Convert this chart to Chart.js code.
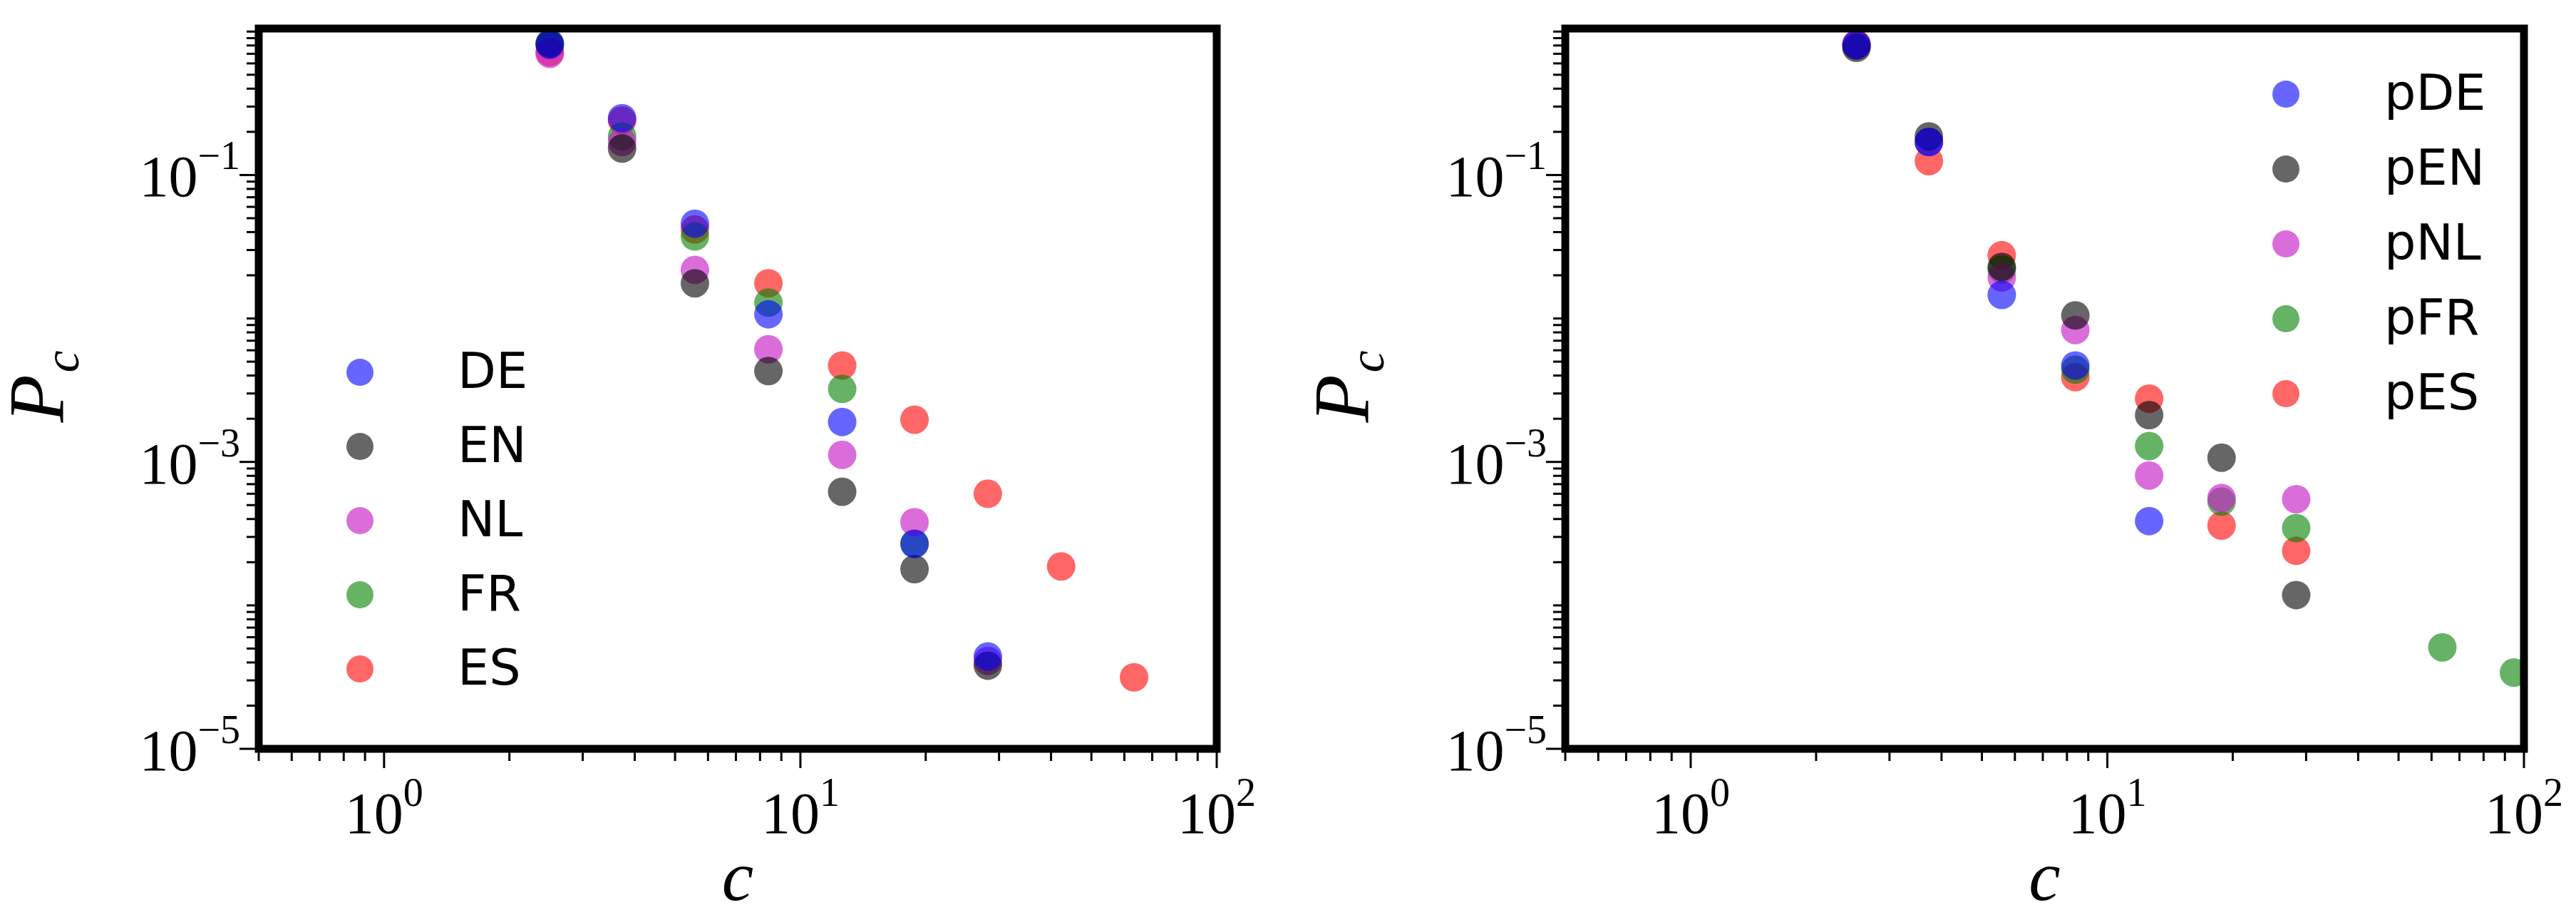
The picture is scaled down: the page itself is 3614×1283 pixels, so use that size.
<!DOCTYPE html>
<html><head><meta charset="utf-8">
<script src="https://cdn.jsdelivr.net/npm/chart.js@4.4.1/dist/chart.umd.min.js"></script>
<style>html,body{margin:0;padding:0;background:#fff;overflow:hidden}
.p{position:absolute;top:0;width:1807px;height:1283px}</style></head>
<body>
<div class="p" style="left:0"><canvas id="c1"></canvas></div>
<div class="p" style="left:1807px"><canvas id="c2"></canvas></div>
<script>
// x categories (c values)
const cVals = [2.5, 3.73, 5.58, 8.38, 12.6, 18.8, 28.2, 42.3, 63.3];
const cValsR = [2.5, 3.73, 5.58, 8.38, 12.6, 18.8, 28.4, 63.7, 94.6];
const xTickLabels = [1, 10, 100];
const yTickLabels = [1e-5, 1e-3, 1e-1];
// left panel
const DE = [0.81, 0.249, 0.0458, 0.0107, 0.0019, 2.68e-4, 4.4e-5, null, null];
const EN = [0.83, 0.153, 0.0176, 0.0043, 6.2e-4, 1.79e-4, 3.8e-5, null, null];
const NL = [0.70, 0.17, 0.0218, 0.0061, 0.00112, 3.8e-4, 4.1e-5, null, null];
const FR = [0.81, 0.186, 0.0373, 0.0129, 0.00323, 2.7e-4, null, null, null];
const ES = [0.72, 0.24, 0.0417, 0.0176, 0.0047, 0.00197, 6.0e-4, 1.87e-4, 3.15e-5];
// right panel
const pDE = [0.81, 0.17, 0.0146, 0.0047, 3.87e-4, null, null, null, null];
const pEN = [0.77, 0.186, 0.0229, 0.0105, 0.00212, 0.00107, 1.18e-4, null, null];
const pNL = [0.80, 0.17, 0.0193, 0.0083, 8.05e-4, 5.6e-4, 5.5e-4, null, null];
const pFR = [0.80, 0.17, 0.022, 0.0044, 0.00129, 5.3e-4, 3.46e-4, 5.1e-5, 3.4e-5];
const pES = [0.82, 0.125, 0.0276, 0.0039, 0.00276, 3.6e-4, 2.4e-4, null, null];

const COLORS = ['rgba(0,0,255,0.6)','rgba(0,0,0,0.6)','rgba(200,30,200,0.65)','rgba(0,128,0,0.6)','rgba(255,0,0,0.6)'];

function pts(xs, ys){ const o=[]; ys.forEach((v,i)=>{ if(v!=null) o.push({x:xs[i],y:v}); }); return o; }

function minors(min,max){ const o=[]; for(let e=-6;e<=3;e++){ for(let m=1;m<10;m++){ const v=m*Math.pow(10,e); if(v>=min*0.999&&v<=max*1.001) o.push({v:v,major:m===1}); } } return o; }

const sup={'-':'\u207B','0':'\u2070','1':'\u00B9','2':'\u00B2','3':'\u00B3','5':'\u2075'};

const framePlugin = {
  id:'frame',
  afterDraw(chart, args, opts){
    const ctx=chart.ctx, a=chart.chartArea, xs=chart.scales.x, ys=chart.scales.y;
    ctx.save();
    ctx.strokeStyle='#000';
    // ticks
    ctx.lineWidth=3;
    minors(xs.min,xs.max).forEach(t=>{ const px=xs.getPixelForValue(t.v); const L=t.major?22:12;
      ctx.beginPath(); ctx.moveTo(px,a.bottom); ctx.lineTo(px,a.bottom+L+5); ctx.stroke(); });
    minors(ys.min,ys.max).forEach(t=>{ const py=ys.getPixelForValue(t.v); const e=Math.round(Math.log10(t.v)); const major=t.major && Math.abs(e)%2===1; const L=major?22:12;
      ctx.beginPath(); ctx.moveTo(a.left-L-5,py); ctx.lineTo(a.left,py); ctx.stroke(); });
    // frame
    ctx.lineWidth=11;
    ctx.strokeRect(a.left,a.top,a.right-a.left,a.bottom-a.top);
    // tick labels
    ctx.fillStyle='#000';
    const lab=(v)=>{ const e=Math.round(Math.log10(v)); return String(e).split('').map(c=>sup[c]||c).join(''); };
    ctx.textBaseline='alphabetic';
    xTickLabels.forEach(v=>{ const px=xs.getPixelForValue(v); const e=Math.round(Math.log10(v));
      ctx.font='82px "Liberation Serif"'; const w1=ctx.measureText('10').width;
      ctx.font='56px "Liberation Serif"'; const w2=ctx.measureText(String(e)).width;
      const x0=px-(w1+w2)/2; const base=a.bottom+118;
      ctx.font='82px "Liberation Serif"'; ctx.textAlign='left'; ctx.fillText('10',x0,base);
      ctx.font='56px "Liberation Serif"'; ctx.fillText(String(e),x0+w1,base-38); });
    yTickLabels.forEach(v=>{ const py=ys.getPixelForValue(v); const e=Math.round(Math.log10(v));
      const es=String(e).replace('-','\u2212');
      ctx.font='56px "Liberation Serif"'; const w2=ctx.measureText(es).width;
      ctx.font='82px "Liberation Serif"'; const w1=ctx.measureText('10').width;
      const xr=a.left-26; const base=py+30;
      ctx.textAlign='left'; ctx.fillText('10',xr-w1-w2,base);
      ctx.font='56px "Liberation Serif"'; ctx.fillText(es,xr-w2,base-38); });
    // axis titles
    ctx.font='italic 100px "Liberation Serif"'; ctx.textAlign='center';
    ctx.fillText('c',(a.left+a.right)/2,1262);
    ctx.save(); ctx.translate(opts.ytx, (a.top+a.bottom)/2); ctx.rotate(-Math.PI/2);
    ctx.font='italic 110px "Liberation Serif"'; ctx.fillText('P',-14,0);
    ctx.font='italic 70px "Liberation Serif"'; ctx.fillText('c',38,22);
    ctx.restore();
    // legend
    const L=opts.legend;
    chart.data.datasets.forEach((d,i)=>{ const y=L.y0+i*L.dy;
      ctx.fillStyle=d.backgroundColor; ctx.beginPath(); ctx.arc(L.cx,y,19,0,Math.PI*2); ctx.fill();
      ctx.fillStyle='#000'; ctx.font='70px "DejaVu Sans"'; ctx.textAlign='left'; ctx.textBaseline='middle';
      ctx.fillText(d.label,L.tx,y+4); ctx.textBaseline='alphabetic'; });
    ctx.restore();
  }
};

function make(id, xs, names, series, pad, legend, ytx){
  new Chart(document.getElementById(id), {
    type:'scatter',
    data:{datasets:series.map((s,i)=>({label:names[i],data:pts(xs,s),backgroundColor:COLORS[i],borderWidth:0,pointRadius:20,pointHoverRadius:20}))},
    options:{
      responsive:false, animation:false, devicePixelRatio:1,
      layout:{padding:pad},
      plugins:{legend:{display:false},tooltip:{enabled:false},frame:{legend:legend,ytx:ytx}},
      scales:{
        x:{type:'logarithmic',min:0.5,max:100,grid:{display:false},border:{display:false},ticks:{display:false},afterFit(s){s.height=0;}},
        y:{type:'logarithmic',min:1e-5,max:1.05,grid:{display:false},border:{display:false},ticks:{display:false},afterFit(s){s.width=0;}}
      }
    },
    plugins:[framePlugin]
  });
}
['c1','c2'].forEach(id=>{const c=document.getElementById(id); c.width=1807; c.height=1283;});
make('c1', cVals, ['DE','EN','NL','FR','ES'], [DE,EN,NL,FR,ES], {left:363,right:100,top:40,bottom:233}, {cx:505,tx:642,y0:522,dy:104}, 88);
make('c2', cValsR, ['pDE','pEN','pNL','pFR','pES'], [pDE,pEN,pNL,pFR,pES], {left:389,right:73,top:40,bottom:233}, {cx:1400,tx:1538,y0:132,dy:105}, 112);
</script></body></html>
